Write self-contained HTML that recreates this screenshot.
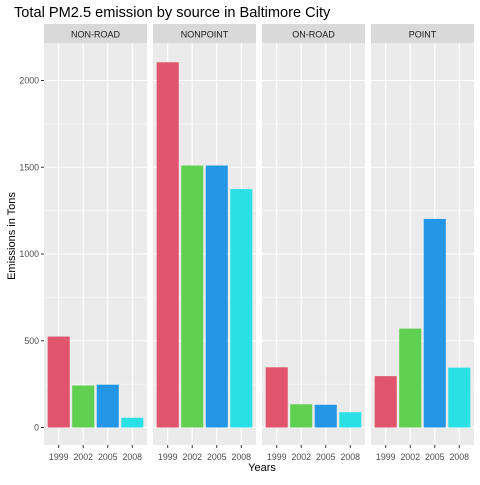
<!DOCTYPE html>
<html><head><meta charset="utf-8"><style>
body{margin:0;background:#fff;}
svg text{font-family:"Liberation Sans",Arial,sans-serif;}
</style></head><body>
<svg id="chart" width="480" height="480">
<text x="14" y="17" font-size="14.6" fill="#000">Total PM2.5 emission by source in Baltimore City</text>
<text x="262" y="471" font-size="11" text-anchor="middle" fill="#000">Years</text>
<text transform="translate(15,236) rotate(-90)" font-size="11" text-anchor="middle" fill="#000">Emissions in Tons</text>
<g id="plot"></g>
</svg>
<script>
const facets = ["NON-ROAD","NONPOINT","ON-ROAD","POINT"];
const years = ["1999","2002","2005","2008"];
const colors = ["#E0556B","#60D050","#2396E5","#2AE0E5"];
const nonRoad = [524, 242, 247, 56];
const nonPoint = [2105, 1510, 1510, 1374];
const onRoad = [347, 134, 131, 88];
const point = [296, 570, 1202, 345];
const yTicks = [0, 500, 1000, 1500, 2000];
const minorTicks = [250, 750, 1250, 1750];
const series = [nonRoad, nonPoint, onRoad, point];

const NS = "http://www.w3.org/2000/svg";
const g = document.getElementById("plot");
const panelTop = 43, panelBottom = 445, panelW = 103, panelX0 = 44, panelGap = 109;
const y0 = 427.5, yScale = 347 / 2000;
function yPos(v){ return y0 - v * yScale; }
function xPos(p, i){ return panelX0 + p * panelGap + (i + 1 - 0.4) * (panelW / 4.2); }
function mk(tag, attrs){ const e = document.createElementNS(NS, tag); for (const k in attrs) e.setAttribute(k, attrs[k]); g.appendChild(e); return e; }

facets.forEach((f, p) => {
  const px = panelX0 + p * panelGap;
  const bg = mk("rect", {x: px, y: panelTop, width: panelW, height: panelBottom - panelTop, fill: "#EBEBEB"});
  
  
  const st = mk("rect", {x: px, y: 24, width: panelW, height: 19, fill: "#D9D9D9"});
  
  
  const stt = mk("text", {x: px + panelW / 2, y: 37.5, "font-size": 9, "text-anchor": "middle", fill: "#1A1A1A"});
  stt.textContent = f;
  
  
  minorTicks.forEach(t => {
    const l = mk("line", {x1: px, x2: px + panelW, y1: yPos(t), y2: yPos(t), stroke: "#fff", "stroke-width": 0.5});
    
    
  });
  yTicks.forEach(t => {
    const l = mk("line", {x1: px, x2: px + panelW, y1: yPos(t), y2: yPos(t), stroke: "#fff", "stroke-width": 1.1});
    
    
  });
  years.forEach((yr, i) => {
    const cx = xPos(p, i);
    const l = mk("line", {x1: cx, x2: cx, y1: panelTop, y2: panelBottom, stroke: "#fff", "stroke-width": 1.1});
    
    
  });
  years.forEach((yr, i) => {
    const cx = xPos(p, i);
    const bw = 0.9 * panelW / 4.2;
    const v = series[p][i];
    const b = mk("rect", {x: cx - bw / 2, y: yPos(v), width: bw, height: y0 - yPos(v), fill: colors[i]});
    
    
    const tk = mk("line", {x1: cx, x2: cx, y1: panelBottom, y2: panelBottom + 3, stroke: "#333", "stroke-width": 1});
    
    
    const tl = mk("text", {x: cx, y: 460, "font-size": 8.8, "text-anchor": "middle", fill: "#4D4D4D"});
    tl.textContent = yr;
    
    
  });
});
yTicks.forEach(t => {
  const tk = mk("line", {x1: 41, x2: 44, y1: yPos(t), y2: yPos(t), stroke: "#333", "stroke-width": 1});
  
  
  const tl = mk("text", {x: 39, y: yPos(t) + 3, "font-size": 8.8, "text-anchor": "end", fill: "#4D4D4D"});
  tl.textContent = t;
  
  
});
</script>
</body></html>
